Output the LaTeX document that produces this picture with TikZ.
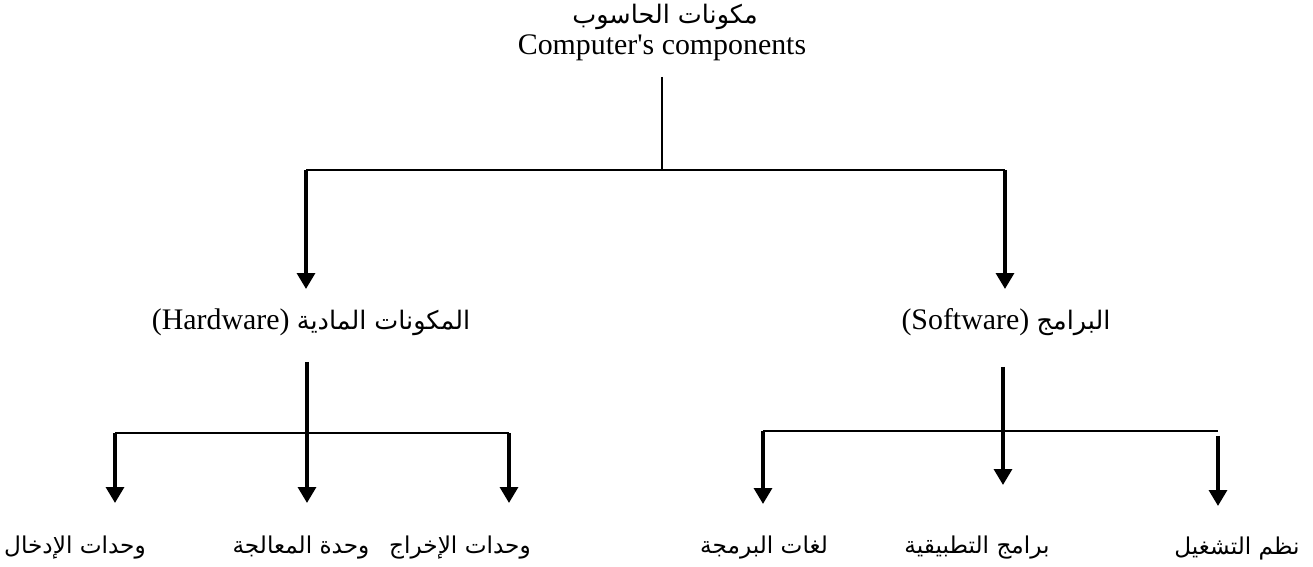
\documentclass[tikz,border=0pt]{standalone}
\usepackage{fontspec}
\setmainfont{Liberation Serif}
\newfontfamily\arabicfont[Script=Arabic]{DejaVu Sans}
\TeXXeTstate=1
\usepackage{tikz}
\usetikzlibrary{arrows.meta}

\newcommand{\ar}[1]{{\arabicfont\beginR #1\endR}}

\begin{document}
\begin{tikzpicture}[x=0.02cm,y=-0.02cm,
    bus/.style={line width=1.1pt},
    branch/.style={line width=2.2pt,-{Triangle[width=10pt,length=9pt]}},
    label/.style={inner sep=0pt,font=\fontsize{17}{20}\selectfont},
    arlabel/.style={inner sep=0pt,font=\fontsize{13.2}{16}\selectfont}]
    \useasboundingbox (0,0) rectangle (1313,567);
    \node [label] (titlear) at (665,17) {\fontsize{14.5}{17}\selectfont\ar{مكونات الحاسوب}};
    \node [label] (titleen) at (662,48) {Computer\textquotesingle s components};
    \node [label] (hw) at (311,322) {(Hardware) \fontsize{14.5}{17}\selectfont\ar{المكونات المادية}};
    \node [label] (sw) at (1006,322) {(Software) \fontsize{14.5}{17}\selectfont\ar{البرامج}};
    \node [arlabel] (in) at (75,548) {\ar{وحدات الإدخال}};
    \node [arlabel] (proc) at (301,548) {\ar{وحدة المعالجة}};
    \node [arlabel] (out) at (460,548) {\ar{وحدات الإخراج}};
    \node [arlabel] (lang) at (764,548) {\ar{لغات البرمجة}};
    \node [arlabel] (app) at (977,548) {\ar{برامج التطبيقية}};
    \node [arlabel] (os) at (1237,548) {\ar{نظم التشغيل}};
    \coordinate (stem) at (662,77);
    \coordinate (top) at (662,170);
    \coordinate (hwtop) at (306,170);
    \coordinate (swtop) at (1005,170);
    \coordinate (hwtip) at (306,289);
    \coordinate (swtip) at (1005,289);
    \coordinate (hwstem) at (307,362);
    \coordinate (hwmid) at (307,503);
    \coordinate (hwleft) at (115,433);
    \coordinate (hwright) at (509,433);
    \coordinate (intip) at (115,503);
    \coordinate (outtip) at (509,503);
    \coordinate (swstem) at (1003,367);
    \coordinate (apptip) at (1003,485);
    \coordinate (swleft) at (763,431);
    \coordinate (swright) at (1218,431);
    \coordinate (osstart) at (1218,436);
    \coordinate (langtip) at (763,504);
    \coordinate (ostip) at (1218,506);
    \draw [bus] (stem) -- (top);
    \draw [bus] (hwtop) -- (swtop);
    \draw [branch] (hwtop) -- (hwtip);
    \draw [branch] (swtop) -- (swtip);
    \draw [bus] (hwleft) -- (hwright);
    \draw [branch] (hwstem) -- (hwmid);
    \draw [branch] (hwleft) -- (intip);
    \draw [branch] (hwright) -- (outtip);
    \draw [bus] (swleft) -- (swright);
    \draw [branch] (swstem) -- (apptip);
    \draw [branch] (swleft) -- (langtip);
    \draw [branch] (osstart) -- (ostip);
\end{tikzpicture}
\end{document}
